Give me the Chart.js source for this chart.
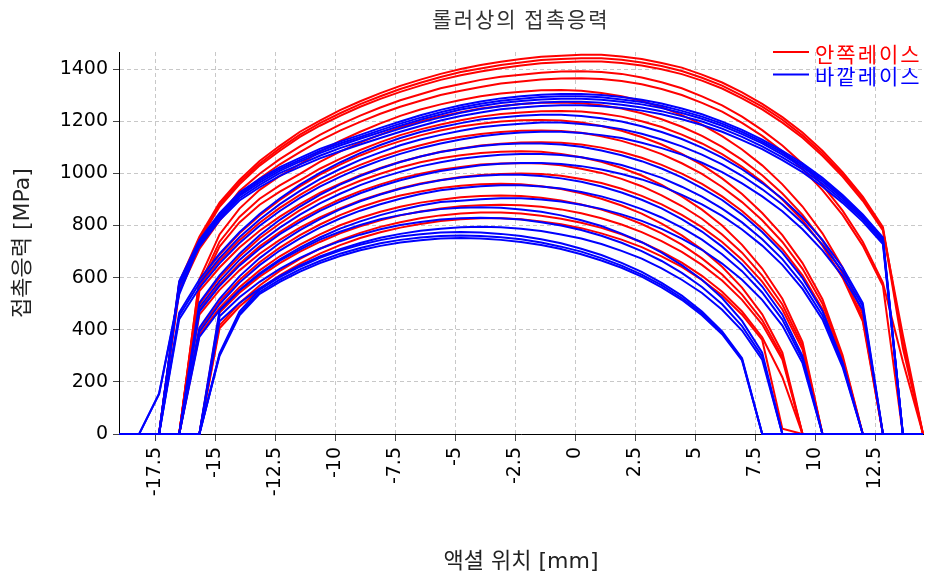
<!DOCTYPE html>
<html>

<head>
  <meta charset="utf-8">
  <title>롤러상의 접촉응력</title>
  <script src="https://cdn.jsdelivr.net/npm/chart.js"></script>
  <style>
    html,
    body {
      margin: 0;
      padding: 0;
      background: #fff;
    }

    .frame {
      width: 926px;
      height: 581px;
    }
  </style>
</head>

<body>
  <div class="frame">
    <canvas id="stress-chart" width="926" height="581"></canvas>
  </div>

  <script>
    // axial position of each roller slice [mm]
    const axialPos = [
      -19.0, -18.16, -17.33, -16.49, -15.65, -14.81, -13.98, -13.14, -12.30, -11.46,
      -10.63, -9.79, -8.95, -8.11, -7.28, -6.44, -5.60, -4.76, -3.93, -3.09,
      -2.25, -1.41, -0.58, 0.26, 1.10, 1.94, 2.78, 3.61, 4.45, 5.29,
      6.13, 6.96, 7.80, 8.64, 9.48, 10.31, 11.15, 11.99, 12.83, 13.66, 14.50
    ];

    // contact stress per roller, inner race [MPa]
    const innerRace = [
      [0,0,0, 582,757,888,975,1048,1106,1160,1203,1243,1277,1308,1336,1360,1382,1401,1416,1429,1439,1448,1452,1455, 1455,1449,1439,1424,1406,1379,1349,1311,1267,1216,1157,1087,1005,911,794,350, 0],
      [0,0,0, 577,750,880,966,1038,1096,1149,1193,1231,1266,1296,1324,1348,1370,1389,1403,1416,1426,1435,1439,1442, 1442,1436,1426,1412,1393,1367,1337,1299,1256,1206,1146,1077,996,903,787,330, 0],
      [0,0,0, 572,744,872,958,1030,1087,1140,1183,1221,1256,1286,1313,1337,1359,1377,1391,1404,1414,1423,1427,1430, 1430,1424,1414,1400,1381,1356,1326,1288,1246,1195,1137,1068,988,895,781,380, 0],
      [0,0,0, 557,724,835,933,999,1055,1104,1148,1187,1222,1253,1281,1304,1327,1343,1359,1371,1379,1386,1391,1392, 1389,1382,1368,1350,1327,1296,1261,1218,1166,1107,1037,955,857,738,580,278, 0],
      [0,0,0, 546,710,819,915,980,1035,1082,1126,1164,1198,1229,1256,1279,1301,1317,1332,1345,1353,1360,1364,1365, 1362,1355,1342,1324,1301,1271,1237,1194,1144,1085,1017,936,841,723,569, 0,0],
      [0,0,0,0, 594,766,865,937,990,1036,1084,1125,1160,1192,1221,1245,1265,1282,1296,1307,1313,1319,1320, 1317,1309,1296,1278,1254,1224,1187,1143,1092,1031,958,873,770,639,459, 0,0,0],
      [0,0,0,0, 572,738,833,903,954,998,1044,1084,1118,1149,1177,1199,1219,1235,1249,1259,1266,1271,1272, 1269,1262,1249,1231,1208,1179,1144,1102,1052,993,923,841,742,616,443, 0,0,0],
      [0,0,0,0, 558,719,812,880,930,973,1018,1056,1090,1120,1147,1169,1188,1204,1218,1228,1234,1239,1240, 1238,1230,1218,1200,1178,1149,1115,1074,1025,968,900,820,723,600,432, 0,0,0],
      [0,0,0,0, 590,688,770,839,898,950,995,1034,1069,1099,1124,1146,1165,1180,1191,1199,1204,1205, 1203,1195,1182,1164,1140,1111,1075,1033,981,921,848,763,656,517,302, 0,0,0,0],
      [0,0,0,0, 570,665,744,811,868,918,962,1000,1033,1062,1087,1108,1127,1141,1151,1159,1164,1165, 1163,1156,1143,1125,1102,1074,1039,998,948,890,820,737,634,500,292, 0,0,0,0],
      [0,0,0,0, 548,639,716,780,834,882,925,961,993,1021,1045,1065,1083,1096,1107,1114,1119,1120, 1118,1111,1099,1082,1060,1033,999,960,912,856,788,709,609,480,281, 0,0,0,0],
      [0,0,0,0, 497,600,681,751,808,859,902,940,972,999,1023,1043,1058,1070,1078,1083,1085, 1083,1075,1062,1045,1021,992,956,912,861,800,726,635,519,353, 0,0,0,0,0,0],
      [0,0,0,0, 476,575,653,720,775,824,864,901,932,958,981,999,1014,1025,1034,1038,1040, 1038,1031,1018,1002,979,951,916,875,826,766,696,608,497,338, 0,0,0,0,0,0],
      [0,0,0,0, 458,553,628,692,745,792,831,866,896,921,943,961,975,986,994,998,1000, 998,991,979,963,941,914,881,841,794,737,669,585,478,325, 0,0,0,0,0,0],
      [0,0,0,0, 400,508,591,659,715,763,804,840,870,895,915,931,944,953,958,960, 958,951,940,924,903,877,846,807,762,708,642,562,459,312, 0,0,0,0,0,0,0],
      [0,0,0,0, 381,484,563,628,682,727,766,801,829,853,872,888,899,909,913,915, 913,907,896,881,861,836,806,770,727,674,612,535,437,297, 0,0,0,0,0,0,0],
      [0,0,0,0,0, 466,542,604,656,700,737,770,797,820,839,854,865,874,878,880, 878,872,862,847,828,804,775,740,699,649,589,515,421,286, 0,0,0,0,0,0,0],
      [0,0,0,0,0, 417,502,570,626,672,711,744,772,795,813,828,839,846,850, 850,846,838,826,811,791,766,736,700,658,607,546,470,371,218, 0,0,0,0,0,0,0],
      [0,0,0,0,0, 406,489,555,609,654,692,725,752,774,792,806,817,824,828, 828,824,816,805,790,770,746,717,682,641,591,532,458,361,20, 0,0,0,0,0,0,0]
    ];

    // contact stress per roller, outer race [MPa]
    const outerRace = [
      [0,0,0, 587,744,848,927,979,1024,1060,1094,1122,1148,1175,1199,1223,1244,1262,1276,1288,1296,1302,1305, 1305,1301,1293,1283,1268,1249,1227,1199,1167,1130,1087,1039,983,917,843,754, 0,0],
      [0,0,156, 544,739,842,920,972,1017,1052,1086,1115,1140,1166,1191,1214,1235,1253,1267,1279,1287,1293,1296, 1296,1292,1284,1274,1260,1240,1218,1191,1159,1122,1080,1032,976,911,837,749, 0,0],
      [0,0,0, 579,734,837,914,965,1010,1045,1078,1107,1133,1158,1183,1206,1226,1245,1259,1270,1278,1284,1287, 1287,1283,1275,1265,1251,1232,1210,1183,1151,1115,1072,1024,969,905,831,744, 0,0],
      [0,0,153, 536,727,829,905,956,1001,1035,1068,1097,1122,1148,1172,1195,1215,1233,1247,1258,1266,1272,1275, 1275,1271,1264,1253,1239,1220,1199,1172,1140,1104,1062,1015,960,896,824,737, 0,0],
      [0,0,0, 568,719,820,896,947,991,1025,1058,1085,1111,1136,1160,1182,1203,1220,1234,1246,1253,1259,1262, 1262,1258,1251,1241,1227,1208,1186,1160,1128,1093,1051,1005,950,887,815,729, 0,0],
      [0,0,0, 466,593,692,774,844,904,957,1002,1042,1078,1109,1136,1159,1177,1193,1207,1215,1221,1225,1225, 1220,1212,1199,1181,1159,1132,1099,1061,1016,963,903,831,745,639,502, 0,0,0],
      [0,0,0, 455,578,675,755,823,882,933,978,1017,1052,1081,1108,1130,1148,1164,1177,1185,1191,1195,1195, 1190,1182,1170,1152,1130,1104,1072,1035,991,939,881,810,727,624,490, 0,0,0],
      [0,0,0, 441,561,655,733,799,856,906,949,987,1021,1050,1075,1097,1115,1130,1143,1151,1157,1160,1160, 1155,1147,1136,1118,1097,1072,1041,1005,962,912,855,786,705,606,476, 0,0,0],
      [0,0,0,0, 504,609,692,763,822,873,918,957,990,1019,1044,1065,1082,1095,1105,1112,1115,1115, 1111,1102,1088,1070,1047,1019,985,944,898,842,775,696,598,472,275, 0,0,0,0],
      [0,0,0,0, 486,587,668,735,792,842,885,922,955,983,1006,1027,1043,1056,1065,1072,1075,1075, 1071,1062,1049,1032,1009,983,949,911,865,812,747,671,576,455,266, 0,0,0,0],
      [0,0,0,0, 470,568,646,711,767,814,856,892,924,951,974,993,1009,1021,1031,1037,1040,1040, 1036,1028,1015,998,977,951,918,881,837,785,723,649,557,440,257, 0,0,0,0],
      [0,0,0,0, 408,519,605,675,733,782,825,862,893,919,941,959,974,984,991,995, 995,990,981,968,950,927,899,866,825,777,719,651,566,458,299, 0,0,0,0,0,0],
      [0,0,0,0, 392,498,581,648,704,751,792,827,857,882,903,921,935,944,951,955, 955,950,942,929,912,890,863,831,792,746,690,625,543,439,287, 0,0,0,0,0,0],
      [0,0,0,0, 373,475,553,617,670,715,754,788,816,840,860,877,890,895,901,905, 905,900,892,880,864,843,818,787,750,707,654,592,515,416,272, 0,0,0,0,0,0],
      [0,0,0,0,0, 474,551,612,665,708,746,776,802,824,840,853,863,868,870, 868,862,853,839,820,798,769,736,696,648,592,522,434,312, 0,0,0,0,0,0,0,0],
      [0,0,0,0,0, 452,525,584,634,676,711,740,765,786,802,814,823,828,830, 828,823,813,800,783,761,734,702,664,618,564,498,414,298, 0,0,0,0,0,0,0,0],
      [0,0,0,0,0, 433,503,559,607,647,681,709,733,753,768,780,788,793,795, 793,788,779,766,750,729,703,673,636,592,541,477,397,285, 0,0,0,0,0,0,0,0],
      [0,0,0,0,0, 310,470,554,602,642,676,704,726,744,758,767,773,775, 773,768,760,747,732,711,687,657,622,580,531,470,394,291, 0,0,0,0,0,0,0,0,0],
      [0,0,0,0,0, 305,461,545,592,632,664,692,714,732,745,754,760,762, 760,755,747,735,719,700,675,646,612,571,522,463,388,286, 0,0,0,0,0,0,0,0,0],
      [0,0,0,0,0, 300,455,538,584,623,656,683,705,722,735,744,750,752, 750,745,737,725,710,690,666,638,604,563,515,456,383,282, 0,0,0,0,0,0,0,0,0]
    ];

    const xTicks = [-17.5, -15, -12.5, -10, -7.5, -5, -2.5, 0, 2.5, 5, 7.5, 10, 12.5];
    const yTicks = [0, 200, 400, 600, 800, 1000, 1200, 1400];

    const chartTitle = '롤러상의 접촉응력';
    const legendItems = [
      { label: '안쪽레이스', color: '#ff0000' },
      { label: '바깥레이스', color: '#0000ff' }
    ];

    const tickFont = { family: "'DejaVu Sans', sans-serif", size: 19 };
    const axisTitleFont = { family: "'DejaVu Sans', 'Noto Sans CJK KR', sans-serif", size: 22 };

    function toLine(values, color, order) {
      return {
        data: values.map((v, i) => ({ x: axialPos[i], y: v })),
        borderColor: color,
        borderWidth: 2,
        pointRadius: 0,
        fill: false,
        tension: 0,
        clip: 3,
        order: order
      };
    }

    // title above the plot and the legend inside its top right corner
    const headerPlugin = {
      id: 'header',
      afterDraw(chart) {
        const { ctx, chartArea } = chart;
        ctx.save();
        ctx.font = "21px 'Noto Sans CJK KR'";
        ctx.letterSpacing = '2px';
        ctx.fillStyle = '#333';
        ctx.textAlign = 'center';
        ctx.textBaseline = 'middle';
        ctx.fillText(chartTitle, (chartArea.left + chartArea.right) / 2, 19);

        ctx.textAlign = 'left';
        legendItems.forEach((item, i) => {
          const y = chartArea.top + i * 22.5;
          ctx.strokeStyle = item.color;
          ctx.lineWidth = 2;
          ctx.beginPath();
          ctx.moveTo(chartArea.right - 150, y);
          ctx.lineTo(chartArea.right - 114, y);
          ctx.stroke();
          ctx.fillStyle = item.color;
          ctx.fillText(item.label, chartArea.right - 108, y + 2);
        });
        ctx.restore();
      }
    };

    const datasets = [
      ...innerRace.map(v => toLine(v, '#ff0000', 1)),
      ...outerRace.map(v => toLine(v, '#0000ff', 0))
    ];

    new Chart(document.getElementById('stress-chart'), {
      type: 'line',
      data: { datasets },
      plugins: [headerPlugin],
      options: {
        responsive: false,
        animation: false,
        devicePixelRatio: 1,
        layout: { padding: { top: 52, right: 3, bottom: 0, left: 0 } },
        plugins: {
          legend: { display: false },
          tooltip: { enabled: false }
        },
        scales: {
          x: {
            type: 'linear',
            min: -19,
            max: 14.5,
            afterBuildTicks: s => { s.ticks = xTicks.map(v => ({ value: v })); },
            afterFit: s => { s.height = 147; },
            ticks: {
              minRotation: 90,
              maxRotation: 90,
              padding: 6,
              color: '#000',
              font: tickFont,
              callback: v => String(v)
            },
            grid: { color: '#c8c8c8', tickColor: '#444', tickLength: 7 },
            border: { color: '#000', width: 1, dash: [4, 3] },
            title: {
              display: true,
              text: '액셜 위치 [mm]',
              color: '#222',
              font: axisTitleFont,
              padding: { top: 0, bottom: 6 }
            }
          },
          y: {
            min: 0,
            max: 1466,
            afterBuildTicks: s => { s.ticks = yTicks.map(v => ({ value: v })); },
            afterFit: s => { s.width = 119; },
            ticks: {
              padding: 5,
              color: '#000',
              font: tickFont,
              callback: v => String(v)
            },
            grid: { color: '#c8c8c8', tickColor: '#444', tickLength: 6 },
            border: { color: '#000', width: 1, dash: [4, 3] },
            title: {
              display: true,
              text: '접촉응력 [MPa]',
              color: '#222',
              font: axisTitleFont,
              padding: { top: 10, bottom: 0 }
            }
          }
        }
      }
    });
  </script>
</body>

</html>
